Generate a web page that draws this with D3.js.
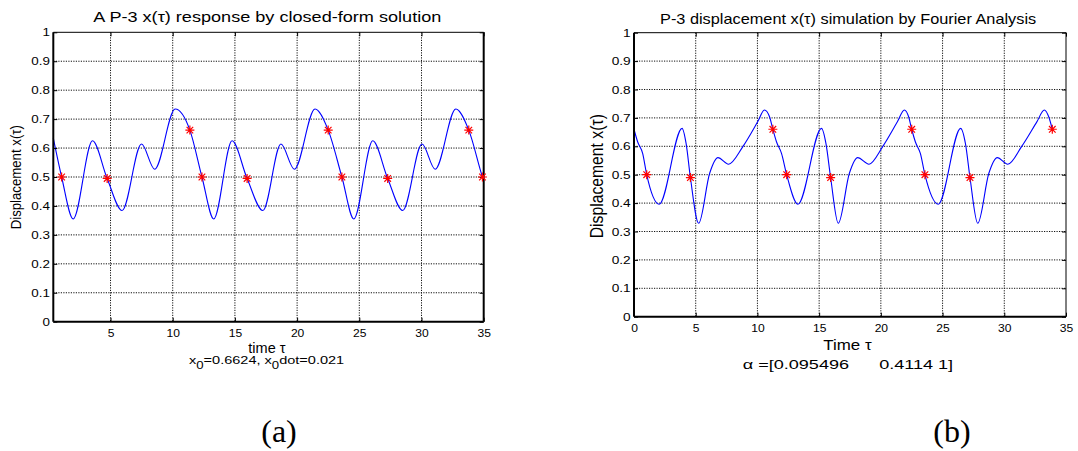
<!DOCTYPE html>
<html>
<head>
<meta charset="utf-8">
<script src="https://cdn.jsdelivr.net/npm/d3@7"></script>
<style>
  html, body { margin: 0; padding: 0; background: #fff; }
  svg { display: block; }
</style>
</head>
<body>
<svg id="fig" width="1078" height="451"></svg>
<script>
// ---- Panel (a): closed-form P-3 response x(tau) ----
const tauA = [0.4, 1.07, 2.0, 3.55, 4.73, 5.93, 7.49, 8.55, 10.2, 11.38, 12.35, 13.3, 14.77, 15.98,
              17.25, 18.7, 19.78, 21.44, 22.5, 23.6, 24.56, 26.08, 27.28, 28.49, 30.04, 31.1, 32.76,
              33.8, 34.9, 35.0];
const xA   = [0.634, 0.5, 0.355, 0.625, 0.495, 0.384, 0.614, 0.527, 0.735, 0.662, 0.5, 0.355, 0.625, 0.495,
              0.384, 0.614, 0.527, 0.735, 0.662, 0.5, 0.355, 0.625, 0.495, 0.384, 0.614, 0.527, 0.735,
              0.662, 0.5, 0.487];
const starTauA = [1.07, 4.73, 11.38, 12.35, 15.98, 22.5, 23.6, 27.28, 33.8, 34.9];
const starXA   = [0.5, 0.495, 0.662, 0.5, 0.495, 0.662, 0.5, 0.495, 0.662, 0.5];

// ---- Panel (b): Fourier-analysis simulation of x(tau) ----
const tauB = [0, 0.3, 0.7, 1.03, 2.04, 3.9, 4.22, 4.57, 5.24, 6.13, 6.8, 7.66, 8.82, 10.03, 10.57, 10.98,
              11.25, 11.55, 11.95, 12.37, 13.28, 15.2, 15.55, 15.93, 16.55, 17.45, 18.12, 19.04, 20.15,
              21.35, 21.9, 22.25, 22.5, 22.8, 23.2, 23.57, 24.65, 26.47, 26.85, 27.22, 27.85, 28.75,
              29.43, 30.28, 31.4, 32.65, 33.24, 33.6, 33.89];
const xB   = [0.66, 0.615, 0.575, 0.5, 0.396, 0.663, 0.61, 0.49, 0.329, 0.505, 0.56, 0.537, 0.599, 0.687, 0.728, 0.704,
              0.66, 0.615, 0.575, 0.5, 0.396, 0.663, 0.61, 0.49, 0.329, 0.505, 0.56, 0.537, 0.599,
              0.687, 0.728, 0.704, 0.66, 0.615, 0.575, 0.5, 0.396, 0.663, 0.61, 0.49, 0.329, 0.505,
              0.56, 0.537, 0.599, 0.687, 0.728, 0.704, 0.66];
const starTauB = [1.03, 4.57, 11.25, 12.37, 15.93, 22.5, 23.57, 27.22, 33.89];
const starXB   = [0.5, 0.49, 0.66, 0.5, 0.49, 0.66, 0.5, 0.49, 0.66];

// ---- Ticks ----
const yTicks = [0, 0.1, 0.2, 0.3, 0.4, 0.5, 0.6, 0.7, 0.8, 0.9, 1];
const yTickLabels = ["0", "0.1", "0.2", "0.3", "0.4", "0.5", "0.6", "0.7", "0.8", "0.9", "1"];
const xTicksA = [5, 10, 15, 20, 25, 30, 35];
const xTicksB = [0, 5, 10, 15, 20, 25, 30, 35];

const SANS = "'Liberation Sans', Arial, Helvetica, sans-serif";
const SERIF = "'Liberation Serif', 'Times New Roman', serif";
const svg = d3.select("#fig");

// Text drawn at a font size, then stretched horizontally to a given width.
function fitText(parent, o) {
  const g = parent.append("g");
  const t = g.append("text")
    .attr("font-family", o.family || SANS)
    .attr("font-size", o.size)
    .attr("xml:space", "preserve")
    .style("white-space", "pre")
    .attr("fill", "#000");
  if (o.build) o.build(t); else t.text(o.text);
  const bb = t.node().getBBox();
  const sx = o.width / bb.width;
  g.attr("transform", `translate(${o.x - bb.x * sx},${o.y}) scale(${sx},1)`);
  return g;
}

// Vertical (rotated) label centred on cy, baseline at bx.
function fitVText(parent, o) {
  const g = parent.append("g");
  const t = g.append("text")
    .attr("font-family", SANS)
    .attr("font-size", o.size)
    .attr("text-anchor", "middle")
    .attr("fill", "#000")
    .text(o.text);
  const w = t.node().getBBox().width;
  g.attr("transform", `translate(${o.bx},${o.cy}) rotate(-90) scale(${o.length / w},${o.sy})`);
  return g;
}

function drawPanel(cfg) {
  const g = svg.append("g");
  const x = d3.scaleLinear().domain(cfg.xDomain).range([cfg.left, cfg.right]);
  const y = d3.scaleLinear().domain([0, 1]).range([cfg.bottom, cfg.top]);

  // dotted grid
  const grid = g.append("g")
    .attr("stroke", "#111").attr("stroke-width", 1).attr("stroke-dasharray", "1.2,1.3");
  grid.selectAll("line.h")
    .data(yTicks.filter(v => v > 0 && v < 1))
    .join("line").attr("class", "h")
    .attr("x1", cfg.left).attr("x2", cfg.right)
    .attr("y1", d => y(d)).attr("y2", d => y(d));
  grid.selectAll("line.v")
    .data(cfg.xTicks.filter(v => v > cfg.xDomain[0] && v < cfg.xDomain[1]))
    .join("line").attr("class", "v")
    .attr("y1", cfg.top).attr("y2", cfg.bottom)
    .attr("x1", d => x(d)).attr("x2", d => x(d));

  // response curve
  const pts = cfg.tau.map((t, i) => [t, cfg.val[i]]);
  g.append("path")
    .datum(pts)
    .attr("fill", "none")
    .attr("stroke", "#0000ff")
    .attr("stroke-width", 1.1)
    .attr("d", d3.line().x(d => x(d[0])).y(d => y(d[1])).curve(d3.curveMonotoneX));

  // axes with inward ticks on all four sides
  const bottomAx = g.append("g").attr("transform", `translate(0,${cfg.bottom})`)
    .call(d3.axisBottom(x).tickValues(cfg.xTicks).tickSizeInner(-4).tickSizeOuter(0)
      .tickPadding(0).tickFormat(d3.format("d")));
  const topAx = g.append("g").attr("transform", `translate(0,${cfg.top})`)
    .call(d3.axisTop(x).tickValues(cfg.xTicks).tickSizeInner(-4).tickSizeOuter(0).tickFormat(""));
  const leftAx = g.append("g").attr("transform", `translate(${cfg.left},0)`)
    .call(d3.axisLeft(y).tickValues(yTicks).tickSizeInner(-4).tickSizeOuter(0)
      .tickPadding(0).tickFormat((d, i) => yTickLabels[i]));
  const rightAx = g.append("g").attr("transform", `translate(${cfg.right},0)`)
    .call(d3.axisRight(y).tickValues(yTicks).tickSizeInner(-4).tickSizeOuter(0).tickFormat(""));

  [bottomAx, topAx, leftAx, rightAx].forEach(a => {
    a.select(".domain").remove();
    a.attr("color", "#000");
  });
  bottomAx.attr("font-family", SANS).attr("font-size", cfg.xTickFont);
  bottomAx.selectAll("text")
    .attr("y", cfg.xTickBaseline).attr("dy", null)
    .attr("transform", `scale(${cfg.xTickScale},1)`);
  leftAx.attr("font-family", SANS).attr("font-size", cfg.yTickFont);
  leftAx.selectAll("text")
    .attr("x", -cfg.yTickGap / cfg.yTickScale)
    .attr("transform", `scale(${cfg.yTickScale},1)`);

  // axes box
  const box = g.append("g").attr("stroke", "#000");
  box.append("line").attr("x1", cfg.left).attr("x2", cfg.right).attr("y1", cfg.top).attr("y2", cfg.top)
    .attr("stroke-width", cfg.spine.top);
  box.append("line").attr("x1", cfg.left).attr("x2", cfg.right).attr("y1", cfg.bottom).attr("y2", cfg.bottom)
    .attr("stroke-width", cfg.spine.bottom);
  box.append("line").attr("x1", cfg.left).attr("x2", cfg.left).attr("y1", cfg.top).attr("y2", cfg.bottom)
    .attr("stroke-width", cfg.spine.left);
  box.append("line").attr("x1", cfg.right).attr("x2", cfg.right).attr("y1", cfg.top).attr("y2", cfg.bottom)
    .attr("stroke-width", cfg.spine.right);

  // red asterisk markers
  const r = 4.5, a = 3.3;
  g.append("g").selectAll("path")
    .data(cfg.starTau.map((t, i) => [t, cfg.starVal[i]]))
    .join("path")
    .attr("transform", d => `translate(${x(d[0])},${y(d[1])})`)
    .attr("d", `M${-r},0H${r}M0,${-r}V${r}M${-a},${-a}L${a},${a}M${-a},${a}L${a},${-a}`)
    .attr("stroke", "#ff0000")
    .attr("stroke-width", 1.2)
    .attr("fill", "none");
  return g;
}

// ---------- panel (a) ----------
const gA = drawPanel({
  left: 53.3, right: 483.7, top: 32.3, bottom: 321.7,
  xDomain: [0.4, 35], xTicks: xTicksA,
  tau: tauA, val: xA, starTau: starTauA, starVal: starXA,
  spine: { top: 1, right: 2, bottom: 2, left: 2 },
  xTickFont: 10.5, xTickScale: 1.15, xTickBaseline: 15.3,
  yTickFont: 10.5, yTickScale: 1.28, yTickGap: 3.3
});
fitText(gA, { text: "A P-3 x(\u03C4) response by closed-form solution", x: 93.3, y: 21.7, width: 348.4, size: 15 });
fitText(gA, { text: "time \u03C4", x: 248.3, y: 352.7, width: 37.7, size: 14 });
fitText(gA, {
  x: 189, y: 364.3, width: 155.3, size: 11,
  build: t => {
    t.append("tspan").text("x");
    t.append("tspan").attr("font-size", 10).attr("dy", 5).text("0");
    t.append("tspan").attr("dy", -5).text("=0.6624, x");
    t.append("tspan").attr("font-size", 10).attr("dy", 5).text("0");
    t.append("tspan").attr("dy", -5).text("dot=0.021");
  }
});
fitVText(gA, { text: "Displacement x(\u03C4)", bx: 21, cy: 177.2, length: 104.3, size: 13, sy: 1.1 });
svg.append("text").attr("x", 279).attr("y", 442).attr("text-anchor", "middle")
  .attr("font-family", SERIF).attr("font-size", 32).text("(a)");

// ---------- panel (b) ----------
const gB = drawPanel({
  left: 634, right: 1066, top: 32.7, bottom: 316.7,
  xDomain: [0, 35], xTicks: xTicksB,
  tau: tauB, val: xB, starTau: starTauB, starVal: starXB,
  spine: { top: 1, right: 1, bottom: 2, left: 2 },
  xTickFont: 11.5, xTickScale: 1.05, xTickBaseline: 15,
  yTickFont: 11.5, yTickScale: 1.19, yTickGap: 3.3
});
fitText(gB, { text: "P-3 displacement x(\u03C4) simulation by Fourier Analysis", x: 660, y: 24.3, width: 376.7, size: 14 });
fitText(gB, { text: "Time \u03C4", x: 823.3, y: 350, width: 48.4, size: 15 });
fitText(gB, { text: "\u03B1 =[0.095496      0.4114 1]", x: 742.7, y: 369.3, width: 210.6, size: 13.5 });
fitVText(gB, { text: "Displacement x(\u03C4)", bx: 602.7, cy: 176.2, length: 124.3, size: 15, sy: 1.2 });
svg.append("text").attr("x", 952).attr("y", 442).attr("text-anchor", "middle")
  .attr("font-family", SERIF).attr("font-size", 32).text("(b)");
</script>
</body>
</html>
